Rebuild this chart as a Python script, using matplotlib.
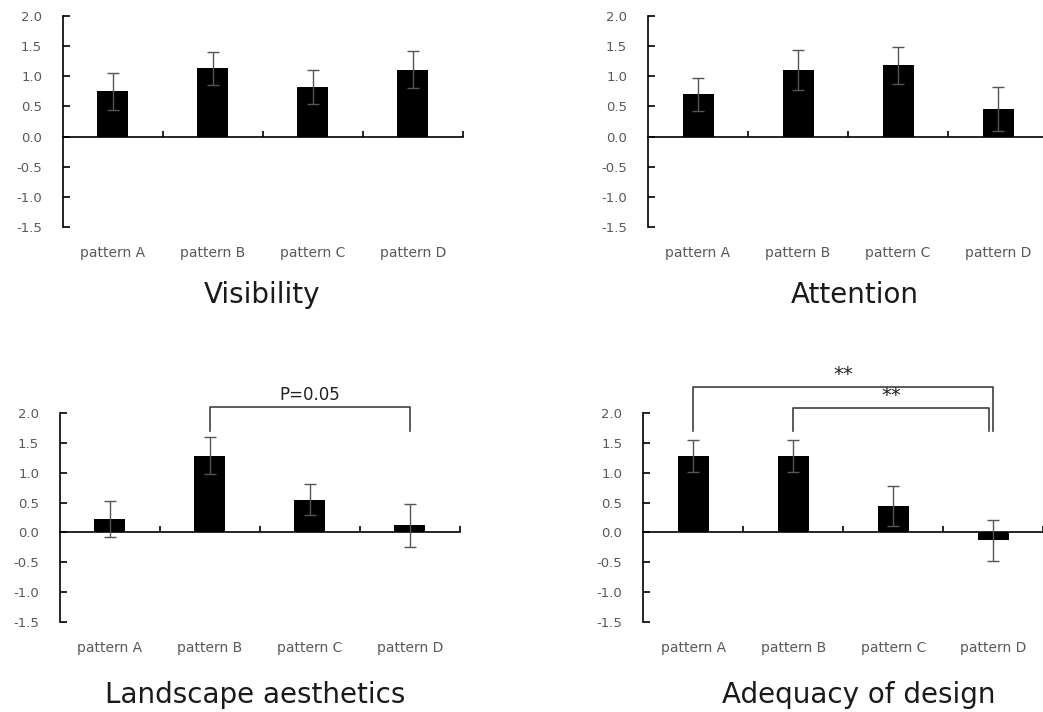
import matplotlib.pyplot as plt
import numpy as np

# categories and panel data
patterns = ['pattern A', 'pattern B', 'pattern C', 'pattern D']
titles = ['Visibility', 'Attention', 'Landscape aesthetics', 'Adequacy of design']

visibility = [0.75, 1.13, 0.82, 1.11]
visibility_err = [0.31, 0.28, 0.28, 0.31]

attention = [0.70, 1.11, 1.18, 0.46]
attention_err = [0.28, 0.33, 0.30, 0.36]

aesthetics = [0.23, 1.28, 0.55, 0.12]
aesthetics_err = [0.30, 0.31, 0.26, 0.36]

adequacy = [1.28, 1.28, 0.44, -0.13]
adequacy_err = [0.27, 0.27, 0.34, 0.34]

yticks = [-1.5, -1.0, -0.5, 0.0, 0.5, 1.0, 1.5, 2.0]

# significance brackets: (panel, from, to, height, label, size)
brackets = [
    (2, 1, 3, 2.10, 'P=0.05', 12),
    (3, 0, 3, 2.43, '**', 14),
    (3, 1, 2.96, 2.08, '**', 14),
]
bracket_foot = 1.70

fig = plt.figure(figsize=(10.43, 7.12), dpi=100)

# axes boxes in figure fractions
boxes = [
    [0.0604, 0.6812, 0.3835, 0.2963],
    [0.6213, 0.6812, 0.3835, 0.2963],
    [0.0575, 0.1260, 0.3835, 0.2944],
    [0.6168, 0.1260, 0.3835, 0.2944],
]
title_pos = [(262, 303), (855, 303), (255, 703), (859, 703)]

means = [visibility, attention, aesthetics, adequacy]
errs = [visibility_err, attention_err, aesthetics_err, adequacy_err]

gray = '#595959'
x = np.arange(len(patterns))

axes = []
for i in range(4):
    ax = fig.add_axes(boxes[i])
    axes.append(ax)
    ax.bar(x, means[i], width=0.31, color='black', zorder=2)
    ax.errorbar(x, means[i], yerr=errs[i], fmt='none', ecolor='#555555',
                elinewidth=1.0, capsize=4, capthick=1.0, zorder=3)

    ax.set_xlim(-0.5, 3.5)
    ax.set_ylim(-1.5, 2.0)
    ax.set_yticks(yticks)
    ax.set_yticklabels(['%.1f' % v for v in yticks])

    for s in ['top', 'right']:
        ax.spines[s].set_visible(False)
    ax.spines['bottom'].set_position(('data', 0))
    ax.spines['left'].set_linewidth(1.2)
    ax.spines['bottom'].set_linewidth(1.2)

    ax.set_xticks(list(x[:-1] + 0.5) + [3.5])
    ax.tick_params(axis='x', direction='in', length=4, width=1.2,
                   labelbottom=False)
    ax.tick_params(axis='y', direction='in', length=5, width=1.2,
                   pad=15, labelsize=9.5, labelcolor=gray)

    # category names sit under the plotting area
    for xi, name in zip(x, patterns):
        ax.text(xi, -0.142, name, transform=ax.get_xaxis_transform(),
                ha='center', va='baseline', fontsize=10, color=gray)

    fig.text(title_pos[i][0] / 1043, 1 - title_pos[i][1] / 712, titles[i],
             ha='center', va='baseline', fontsize=20, color='#1a1a1a')

for p, a, b, h, label, size in brackets:
    ax = axes[p]
    ax.plot([a, a, b, b], [bracket_foot, h, h, bracket_foot],
            color='#404040', lw=1.2, clip_on=False)
    ax.text((a + b) / 2, h + 0.05, label, ha='center', va='bottom',
            fontsize=size, color='#222222', clip_on=False)

fig.savefig('out.png', dpi=100)
